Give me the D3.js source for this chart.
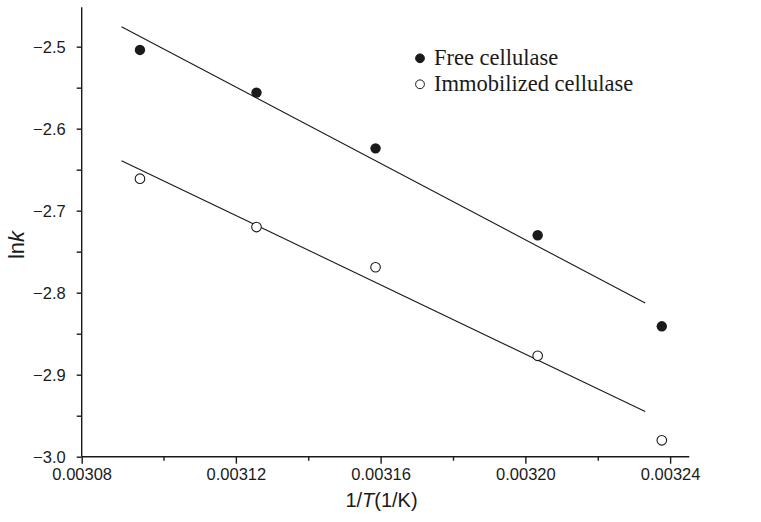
<!DOCTYPE html>
<html><head><meta charset="utf-8">
<script src="https://cdn.jsdelivr.net/npm/d3@7"></script>
<style>body{margin:0;background:#fff}svg{display:block}</style>
</head><body>
<svg id="c" width="761" height="522"></svg>
<script>
const invT = [0.0030935, 0.0031257, 0.0031586, 0.0032034, 0.0032377];
const freeLnK = [-2.504, -2.556, -2.624, -2.730, -2.841];
const immLnK = [-2.661, -2.720, -2.769, -2.877, -2.980];
const fitX = [0.0030884, 0.0032331];
const freeFit = [-2.4756, -2.8126];
const immFit = [-2.639, -2.945];
const xTickLabels = ["0.00308", "0.00312", "0.00316", "0.00320", "0.00324"];
const xTicks = [0.0030774, 0.00312, 0.00316, 0.00320, 0.00324];
const xMinor = [0.00310, 0.00314, 0.00318, 0.00322];
const yTicks = [-3.0, -2.9, -2.8, -2.7, -2.6, -2.5];
const yMinor = [-2.95, -2.85, -2.75, -2.65, -2.55];
const legendLabels = ["Free cellulase", "Immobilized cellulase"];

const svg = d3.select("#c");
const ink = "#1a1a1a";
const x = d3.scaleLinear().domain([0.0030774, 0.0032453]).range([81.7, 689.3]);
const y = d3.scaleLinear().domain([-3.0, -2.452]).range([456.7, 7.3]);

// axes
const xAxis = d3.axisBottom(x).tickValues(xTicks).tickFormat((d, i) => xTickLabels[i]).tickSize(7).tickPadding(5);
const gx = svg.append("g").attr("transform", `translate(0,${y.range()[0]})`).call(xAxis);
gx.select(".domain").attr("d", `M${x.range()[0]},0H${x.range()[1]}`);
svg.append("g").attr("transform", `translate(0,${y.range()[0]})`)
  .call(d3.axisBottom(x).tickValues(xMinor).tickFormat("").tickSize(4))
  .select(".domain").remove();

const yAxis = d3.axisLeft(y).tickValues(yTicks).tickFormat(d3.format(".1f")).tickSize(5).tickPadding(11);
const gy = svg.append("g").attr("transform", `translate(${x.range()[0]},0)`).call(yAxis);
gy.select(".domain").attr("d", `M0,${y.range()[0]}V${y.range()[1]}`);
svg.append("g").attr("transform", `translate(${x.range()[0]},0)`)
  .call(d3.axisLeft(y).tickValues(yMinor).tickFormat("").tickSize(5))
  .select(".domain").remove();

svg.selectAll(".domain").attr("stroke", ink).attr("stroke-width", 1.4);
svg.selectAll(".tick line").attr("stroke", ink).attr("stroke-width", 1.4);
svg.selectAll(".tick text").attr("font-family", "'Liberation Sans', Arial, sans-serif")
  .attr("font-size", 16.5).attr("fill", ink);
gy.selectAll(".tick text").attr("dy", "0.36em");

// fit lines
const line = d3.line().x(d => x(d[0])).y(d => y(d[1]));
[freeFit, immFit].forEach(f => {
  svg.append("path").attr("d", line(fitX.map((v, i) => [v, f[i]])))
    .attr("fill", "none").attr("stroke", ink).attr("stroke-width", 1.1);
});

// points
svg.append("g").selectAll("circle").data(invT.map((v, i) => [v, freeLnK[i]])).join("circle")
  .attr("cx", d => x(d[0])).attr("cy", d => y(d[1])).attr("r", 5.2).attr("fill", ink);
svg.append("g").selectAll("circle").data(invT.map((v, i) => [v, immLnK[i]])).join("circle")
  .attr("cx", d => x(d[0])).attr("cy", d => y(d[1])).attr("r", 4.8)
  .attr("fill", "#fff").attr("stroke", ink).attr("stroke-width", 1.1);

// legend
const lg = svg.append("g").attr("font-family", "'Liberation Serif', 'Times New Roman', serif")
  .attr("font-size", 22.5).attr("fill", ink);
legendLabels.forEach((t, i) => {
  const cy = 58.3 + i * 26;
  lg.append("circle").attr("cx", 420).attr("cy", cy).attr("r", 4.4)
    .attr("fill", i === 0 ? ink : "#fff").attr("stroke", ink).attr("stroke-width", 1);
  lg.append("text").attr("x", 434).attr("y", cy + 6.5).text(t);
});

// axis titles
const xt = svg.append("text").attr("x", 381.5).attr("y", 507).attr("text-anchor", "middle")
  .attr("font-family", "'Liberation Sans', Arial, sans-serif").attr("font-size", 20).attr("fill", ink);
xt.append("tspan").text("1/");
xt.append("tspan").attr("font-style", "italic").text("T");
xt.append("tspan").text("(1/K)");

const yt = svg.append("text").attr("transform", "translate(24,245) rotate(-90)").attr("text-anchor", "middle")
  .attr("font-family", "'Liberation Sans', Arial, sans-serif").attr("font-size", 22).attr("fill", ink);
yt.append("tspan").text("ln");
yt.append("tspan").attr("font-style", "italic").text("k");
</script>
</body></html>
